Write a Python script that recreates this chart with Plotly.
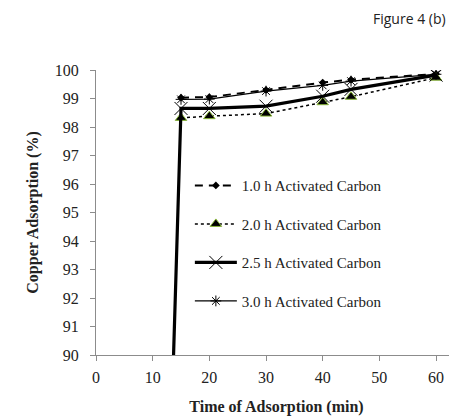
import plotly.graph_objects as go

# time (min) and copper adsorption (%) for each activation time
TIME = [15, 20, 30, 40, 45, 60]
TIME_25 = [0, 15, 20, 30, 40, 45, 60]

ADS_10 = [99.03, 99.05, 99.30, 99.56, 99.66, 99.86]
ADS_20 = [98.32, 98.38, 98.47, 98.87, 99.06, 99.73]
ADS_25 = [0.0, 98.65, 98.65, 98.73, 99.08, 99.32, 99.82]
ADS_30 = [98.97, 98.98, 99.26, 99.46, 99.61, 99.85]

SERIF = "Liberation Serif, Times New Roman, serif"
AXIS_GREY = "#8c8c8c"

fig = go.Figure()

fig.add_trace(go.Scatter(
    x=TIME, y=ADS_10, name="1.0 h Activated Carbon", legendgroup="a",
    mode="lines+markers",
    line={"color": "black", "width": 2, "dash": "8px,6px"},
    marker={"symbol": "diamond", "size": 6, "color": "black"},
))
fig.add_trace(go.Scatter(
    x=TIME, y=ADS_20, name="2.0 h Activated Carbon", legendgroup="b",
    mode="lines+markers",
    line={"color": "black", "width": 1.5, "dash": "dot"},
    marker={"symbol": "triangle-up", "size": 10, "color": "black",
            "line": {"color": "#8bb83c", "width": 1}},
))
fig.add_trace(go.Scatter(
    x=TIME_25, y=ADS_25, name="2.5 h Activated Carbon", legendgroup="c",
    mode="lines+markers",
    line={"color": "black", "width": 3.2},
    marker={"symbol": "x-thin-open", "size": 13, "color": "black",
            "line": {"color": "black", "width": 1}},
))
fig.add_trace(go.Scatter(
    x=TIME, y=ADS_30, name="3.0 h Activated Carbon", legendgroup="d",
    mode="lines+markers",
    line={"color": "black", "width": 1.3},
    marker={"symbol": "asterisk-open", "size": 9, "color": "black",
            "line": {"color": "black", "width": 1}},
))

# page body keeps its default 8px margin, so the figure is 8px smaller
fig.update_layout(
    width=449,
    height=412,
    margin={"l": 88, "r": 0, "t": 62, "b": 65},
    paper_bgcolor="white",
    plot_bgcolor="white",
    font={"family": SERIF, "size": 16, "color": "#222"},
    legend={
        "x": 0.26, "y": 0.652, "xanchor": "left", "yanchor": "top",
        "font": {"family": SERIF, "size": 15, "color": "#222"},
        "bgcolor": "rgba(0,0,0,0)",
        "tracegroupgap": 16,
        "itemwidth": 42,
    },
    annotations=[
        {"text": "Figure 4 (b)", "xref": "paper", "yref": "paper",
         "x": 0.975, "y": 1.18, "xanchor": "right", "yanchor": "middle",
         "showarrow": False,
         "font": {"family": "Open Sans, sans-serif", "size": 14, "color": "#222"}},
    ],
)

fig.update_xaxes(
    range=[0, 63.7], tick0=0, dtick=10,
    showline=True, linecolor=AXIS_GREY, linewidth=1,
    ticks="outside", ticklen=5, tickcolor=AXIS_GREY,
    showgrid=False, zeroline=False, ticklabelstandoff=3,
    title={"text": "<b>Time of Adsorption (min)</b>", "standoff": 15,
           "font": {"family": SERIF, "size": 16, "color": "#222"}},
)
fig.update_yaxes(
    range=[90, 100], tick0=90, dtick=1,
    showline=True, linecolor=AXIS_GREY, linewidth=1,
    ticks="outside", ticklen=5, tickcolor=AXIS_GREY,
    showgrid=False, zeroline=False, ticklabelstandoff=8,
    title={"text": "<b>Copper Adsorption (%)</b>", "standoff": 12,
           "font": {"family": SERIF, "size": 16, "color": "#222"}},
)

fig.write_html("out.html")
